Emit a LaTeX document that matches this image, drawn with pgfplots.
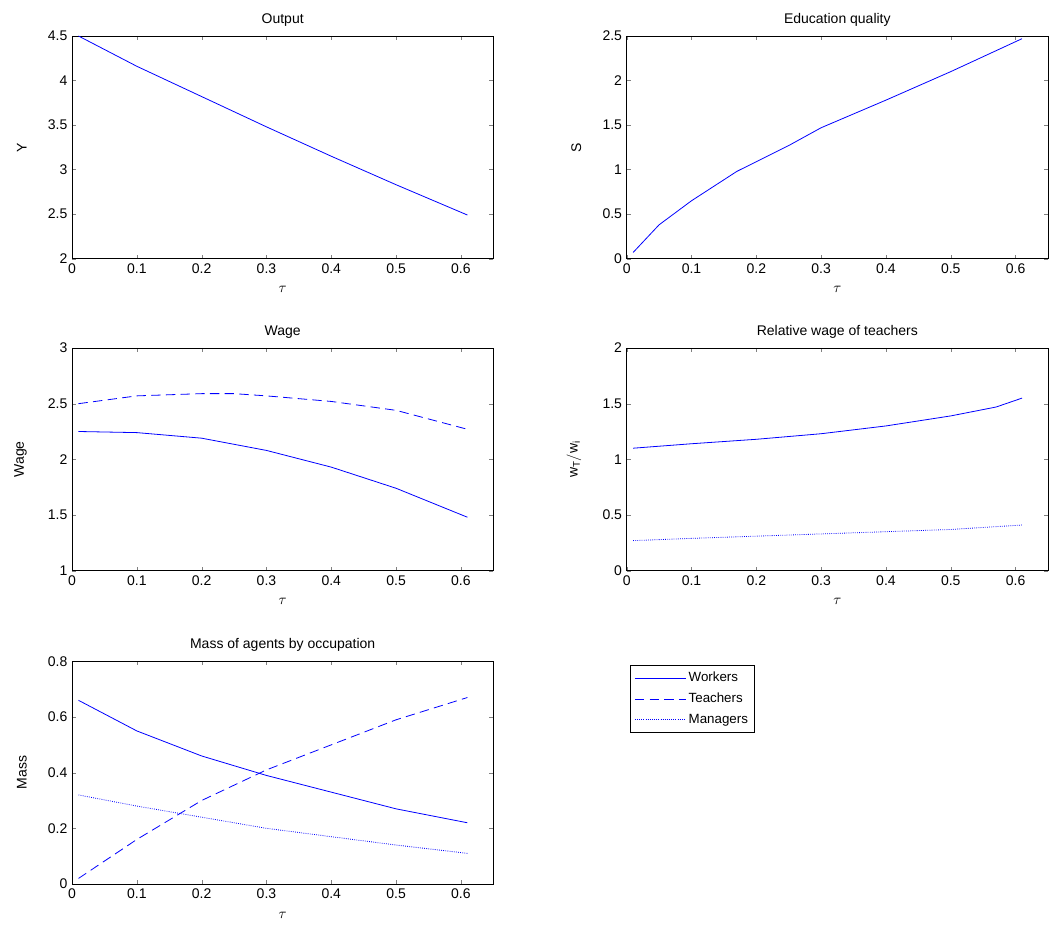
\documentclass[border=0pt]{standalone}
\usepackage{pgfplots}
\pgfplotsset{compat=1.18}
\usepackage{fontspec}
\setmainfont{Liberation Sans}
\definecolor{mblue}{RGB}{0,0,255}
\begin{document}
\begin{tikzpicture}
\pgfplotsset{
  every axis/.append style={
    scale only axis, width=316pt, height=167pt, anchor=north west,
    xmin=0, xmax=0.65, xtick={0,0.1,...,0.6},
    tick pos=both, tick align=inside, major tick length=3pt,
    font=\fontsize{10.5}{12}\selectfont,
    /pgf/number format/assume math mode=true,
    xlabel={$\tau$}, xlabel style={yshift=-3pt}, ylabel style={yshift=9pt},
    title style={yshift=-2pt},
    no marks,
    every axis plot/.append style={mblue, line width=0.6pt},
    axis line style={line width=0.5pt},
  }
}
\path[use as bounding box] (0,0) rectangle (786.75pt,-697.5pt);
\begin{axis}[at={(54pt,-27pt)}, title={Output}, ylabel={Y}, ymin=2, ymax=4.5, ytick={2,2.5,...,4.5}]
\addplot coordinates {(0.01,4.5)(0.1,4.16)(0.2,3.82)(0.3,3.48)(0.4,3.15)(0.5,2.83)(0.61,2.49)};
\end{axis}
\begin{axis}[at={(470pt,-27pt)}, title={Education quality}, ylabel={S}, ymin=0, ymax=2.5, ytick={0,0.5,...,2.5}]
\addplot coordinates {(0.01,0.07)(0.05,0.38)(0.1,0.65)(0.17,0.98)(0.25,1.27)(0.3,1.47)(0.4,1.78)(0.5,2.1)(0.61,2.47)};
\end{axis}
\begin{axis}[at={(54pt,-261pt)}, title={Wage}, ylabel={Wage}, ymin=1, ymax=3, ytick={1,1.5,...,3}]
\addplot coordinates {(0.01,2.25)(0.1,2.24)(0.2,2.19)(0.3,2.08)(0.4,1.93)(0.5,1.74)(0.61,1.48)};
\addplot[dash pattern=on 7pt off 4pt] coordinates {(0.01,2.5)(0.1,2.57)(0.2,2.59)(0.25,2.59)(0.3,2.57)(0.4,2.52)(0.5,2.44)(0.61,2.27)};
\end{axis}
\begin{axis}[at={(470pt,-261pt)}, title={Relative wage of teachers}, ylabel={$\mathrm{w_T/w_i}$}, ymin=0, ymax=2, ytick={0,0.5,...,2}]
\addplot coordinates {(0.01,1.1)(0.1,1.14)(0.2,1.18)(0.3,1.23)(0.4,1.3)(0.5,1.39)(0.57,1.47)(0.61,1.55)};
\addplot[densely dotted] coordinates {(0.01,0.27)(0.1,0.29)(0.2,0.31)(0.3,0.33)(0.4,0.35)(0.5,0.37)(0.61,0.41)};
\end{axis}
\begin{axis}[at={(54pt,-496pt)}, title={Mass of agents by occupation}, ylabel={Mass}, ymin=0, ymax=0.8, ytick={0,0.2,...,0.8},
  yticklabel style={/pgf/number format/fixed},
  legend style={at={(1.325,0.982)}, anchor=north west, font=\fontsize{10}{11}\selectfont, legend cell align=left, inner sep=3pt, row sep=3pt},
  legend image code/.code={\draw[mblue, line width=0.6pt, #1] (0pt,0pt) -- (38pt,0pt);}]
\addplot coordinates {(0.01,0.66)(0.1,0.55)(0.2,0.46)(0.3,0.39)(0.4,0.33)(0.5,0.27)(0.61,0.22)};
\addplot[dash pattern=on 7pt off 4pt] coordinates {(0.01,0.02)(0.1,0.16)(0.2,0.3)(0.3,0.41)(0.4,0.5)(0.5,0.59)(0.61,0.67)};
\addplot[densely dotted] coordinates {(0.01,0.32)(0.1,0.28)(0.2,0.24)(0.3,0.2)(0.4,0.17)(0.5,0.14)(0.61,0.11)};
\legend{Workers,Teachers,Managers}
\end{axis}
\end{tikzpicture}
\end{document}
